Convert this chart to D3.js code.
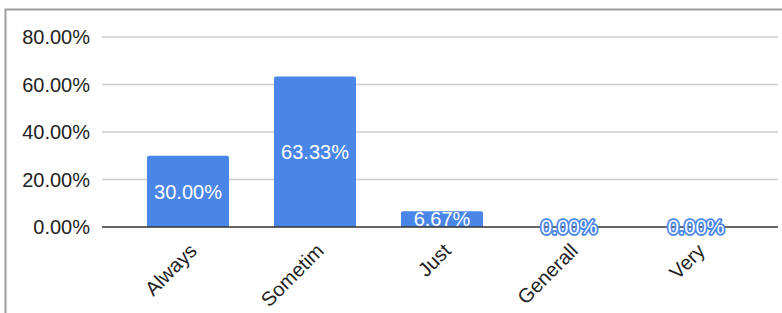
<!DOCTYPE html>
<html>
<head>
<meta charset="utf-8">
<script src="https://cdn.jsdelivr.net/npm/d3@7"></script>
<style>
  body { margin: 0; background: #fff; }
  svg { display: block; font-family: "Liberation Sans", Arial, sans-serif; }
</style>
</head>
<body>
<svg id="chart" width="782" height="313"></svg>
<script>
const categories = ["Always", "Sometim", "Just", "Generall", "Very"];
const values = [30.00, 63.33, 6.67, 0.00, 0.00];
const yTicks = [0, 20, 40, 60, 80];

const svg = d3.select("#chart");
const barColor = "#4a86e8";

// frame (top and left edges only visible in the crop)
svg.append("path")
  .attr("d", "M5.5,313 V9.5 H782")
  .attr("fill", "none")
  .attr("stroke", "#9e9e9e")
  .attr("stroke-width", 2);

const gridLeft = 102, gridRight = 778;
const y = d3.scaleLinear().domain([0, 80]).range([227, 37]);
const x = d3.scaleBand().domain(categories).range([124.5, 759.5]).paddingInner(0.354).paddingOuter(0.177);

const g = svg.append("g");

g.append("g")
  .selectAll("line")
  .data(yTicks.filter(d => d > 0))
  .join("line")
  .attr("x1", gridLeft).attr("x2", gridRight)
  .attr("y1", d => y(d)).attr("y2", d => y(d))
  .attr("stroke", "#cccccc").attr("stroke-width", 1.5);

g.append("g")
  .selectAll("text")
  .data(yTicks)
  .join("text")
  .attr("x", 90)
  .attr("y", d => y(d))
  .attr("dy", "0.36em")
  .attr("text-anchor", "end")
  .attr("font-size", 20)
  .attr("fill", "#222")
  .text(d => d3.format(".2f")(d) + "%");

const data = categories.map((c, i) => ({ cat: c, val: values[i] }));

g.selectAll("path.bar")
  .data(data.filter(d => d.val > 0))
  .join("path")
  .attr("class", "bar")
  .attr("fill", barColor)
  .attr("d", d => {
    const x0 = x(d.cat), w = x.bandwidth(), top = y(d.val), bot = y(0), r = 2;
    return `M${x0},${bot} V${top + r} Q${x0},${top} ${x0 + r},${top} H${x0 + w - r} Q${x0 + w},${top} ${x0 + w},${top + r} V${bot} Z`;
  });

// baseline
g.append("line")
  .attr("x1", gridLeft).attr("x2", gridRight)
  .attr("y1", y(0)).attr("y2", y(0))
  .attr("stroke", "#333").attr("stroke-width", 1.5);

// value labels
g.selectAll("text.val")
  .data(data)
  .join("text")
  .attr("class", "val")
  .attr("x", d => x(d.cat) + x.bandwidth() / 2)
  .attr("y", d => d.val > 0 ? (y(d.val) + y(0)) / 2 : y(0))
  .attr("dy", "0.36em")
  .attr("text-anchor", "middle")
  .attr("font-size", 20)
  .attr("fill", "#fff")
  .attr("stroke", d => d.val > 0 ? "none" : barColor)
  .attr("stroke-width", 3.5)
  .attr("stroke-linejoin", "round")
  .attr("paint-order", "stroke")
  .text(d => d3.format(".2f")(d.val) + "%");

// rotated category labels
g.selectAll("text.cat")
  .data(categories)
  .join("text")
  .attr("class", "cat")
  .attr("text-anchor", "end")
  .attr("font-size", 20)
  .attr("fill", "#222")
  .attr("transform", d => `translate(${x(d) + x.bandwidth() / 2 + 5},${y(0) + 20}) rotate(-45)`)
  .attr("dy", "0.36em")
  .text(d => d);
</script>
</body>
</html>
